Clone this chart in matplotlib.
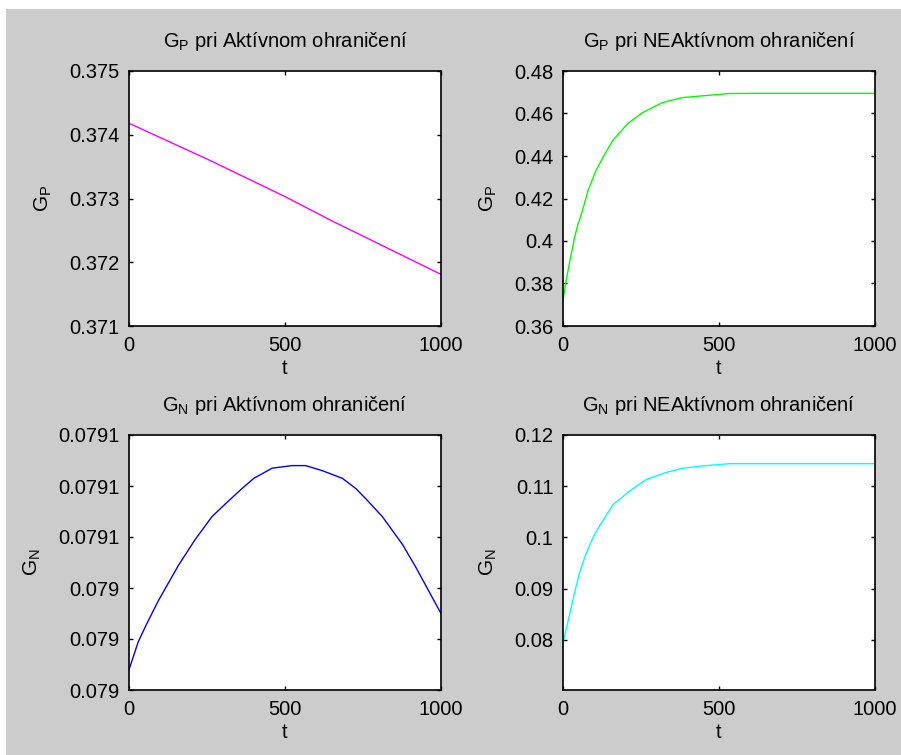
import matplotlib
matplotlib.use('Agg')
import matplotlib.pyplot as plt
from matplotlib.patches import Rectangle
from matplotlib.ticker import FormatStrFormatter

plt.rcParams['font.family'] = ['Liberation Sans', 'DejaVu Sans']
plt.rcParams['mathtext.default'] = 'regular'

# G_P, active constraint
t_gp_akt = [0, 250, 500, 650, 1000]
gp_akt = [0.37418, 0.37362, 0.37303, 0.37265, 0.37181]

# G_P, inactive constraint
t_gp_neakt = [0, 8, 21, 37, 48, 59, 80, 105, 128, 160, 208, 256, 320, 384, 470, 534, 630, 1000]
gp_neakt = [0.3718, 0.3797, 0.3899, 0.4016, 0.4079, 0.4126, 0.4236, 0.4330, 0.4393, 0.4474,
            0.4553, 0.4605, 0.4652, 0.4675, 0.4686, 0.4694, 0.4695, 0.4695]

# G_N, active constraint
t_gn_akt = [0, 30, 57, 94, 159, 212, 266, 309, 362, 400, 459, 523, 566, 620, 684, 727, 759,
            812, 877, 920, 1000]
gn_akt = [0.079008, 0.079019, 0.079026, 0.079035, 0.079049, 0.079059, 0.079068, 0.079073,
          0.079079, 0.079083, 0.079087, 0.079088, 0.079088, 0.079086, 0.079083, 0.079079,
          0.079075, 0.079068, 0.079057, 0.079048, 0.079030]

# G_N, inactive constraint
t_gn_neakt = [0, 16, 37, 53, 75, 101, 123, 160, 219, 267, 331, 384, 438, 534, 630, 1000]
gn_neakt = [0.0794, 0.0836, 0.0892, 0.0931, 0.0970, 0.1006, 0.1028, 0.1064, 0.1093, 0.1113,
            0.1127, 0.1135, 0.1139, 0.1144, 0.1144, 0.1144]

fig = plt.figure(figsize=(9.01, 7.55), dpi=100, facecolor='white')
# gray MATLAB-like figure area (thin white strip at top and left)
fig.patches.append(Rectangle((6 / 901, 0), 1, 746 / 755, transform=fig.transFigure,
                             facecolor='#cccccc', edgecolor='none', zorder=-10))

w, h = 312 / 901, 255 / 755
panels = [
    # left, bottom, t, y, color, title, ylabel, ylim, yticks, fmt
    (129 / 901, 429 / 755, t_gp_akt, gp_akt, '#ff00ff',
     r'$G_P$ pri Aktívnom ohraničení', r'$G_P$', (0.371, 0.375),
     [0.371, 0.372, 0.373, 0.374, 0.375], '%.3f'),
    (563 / 901, 429 / 755, t_gp_neakt, gp_neakt, '#00ff00',
     r'$G_P$ pri NEAktívnom ohraničení', r'$G_P$', (0.36, 0.48),
     [0.36, 0.38, 0.40, 0.42, 0.44, 0.46, 0.48], '%g'),
    (129 / 901, 65 / 755, t_gn_akt, gn_akt, '#0000ff',
     r'$G_N$ pri Aktívnom ohraničení', r'$G_N$', (0.07900, 0.07910),
     [0.07900, 0.07902, 0.07904, 0.07906, 0.07908, 0.07910], '%.3g'),
    (563 / 901, 65 / 755, t_gn_neakt, gn_neakt, '#00ffff',
     r'$G_N$ pri NEAktívnom ohraničení', r'$G_N$', (0.0702, 0.12),
     [0.08, 0.09, 0.10, 0.11, 0.12], '%g'),
]

for left, bottom, t, y, color, title, ylabel, ylim, yticks, fmt in panels:
    ax = fig.add_axes([left, bottom, w, h])
    ax.plot(t, y, color=color, linewidth=1.0)
    ax.set_xlim(0, 1000)
    ax.set_ylim(*ylim)
    ax.set_xticks([0, 500, 1000])
    ax.set_yticks(yticks)
    ax.yaxis.set_major_formatter(FormatStrFormatter(fmt))
    ax.tick_params(direction='in', top=True, right=True, length=3, width=1,
                   labelsize=14.5, colors='black')
    ax.tick_params(axis='y', pad=7)
    ax.tick_params(axis='x', pad=7)
    for s in ax.spines.values():
        s.set_linewidth(1.2)
    ax.set_title(title, fontsize=14.5, pad=17)
    ax.set_xlabel('t', fontsize=14.5, labelpad=3)
    ax.set_ylabel(ylabel, fontsize=15, labelpad=11)

plt.savefig('out.png', dpi=100, facecolor=fig.get_facecolor())
